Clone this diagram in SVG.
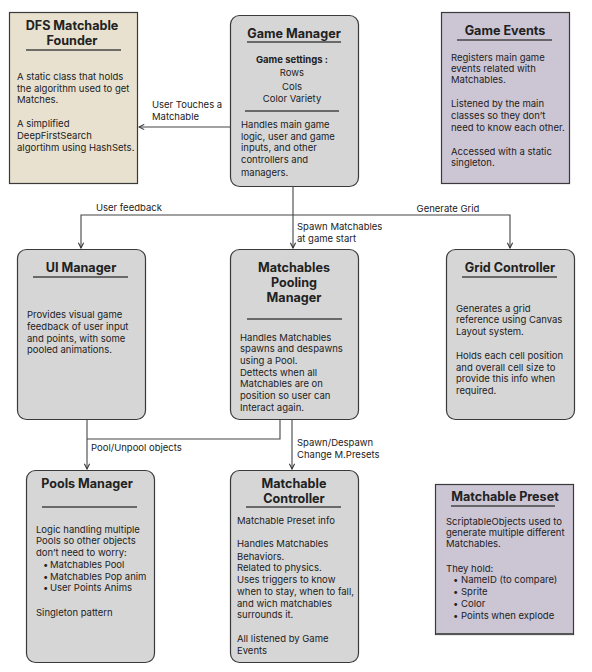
<svg xmlns="http://www.w3.org/2000/svg" width="592" height="672" viewBox="0 0 592 672">
<defs>
<marker id="ah" viewBox="0 0 8 8" refX="7" refY="4" markerWidth="7" markerHeight="7" orient="auto" markerUnits="userSpaceOnUse">
<path d="M1,1 L7,4 L1,7" fill="none" stroke="#333" stroke-width="1.2"/>
</marker>
<style>
text{font-family:Inter,"Noto Sans","Liberation Sans",sans-serif;fill:#222}
.t{font-size:12.6px;font-weight:700;text-anchor:middle}
.b{font-size:9.5px}
.c{font-size:9.5px;text-anchor:middle}
.bb{font-size:9.5px;font-weight:700;text-anchor:middle}
.l{font-size:9.5px}
.gray{fill:#d6d6d6;stroke:#3a3a3a;stroke-width:1.2}
.beige{fill:#e8e1cf;stroke:#3a3a3a;stroke-width:1.2}
.lav{fill:#ccc5d4;stroke:#3a3a3a;stroke-width:1.2}
.ul{stroke:#444;stroke-width:1.3}
.cn{fill:none;stroke:#444;stroke-width:1.1}
</style>
</defs>
<rect width="592" height="672" fill="#fff"/>

<g id="connectors">
<path class="cn" d="M230,127 H139" marker-end="url(#ah)"/>
<path class="cn" d="M293,187 V248" marker-end="url(#ah)"/>
<path class="cn" d="M293,215 H81 V248" marker-end="url(#ah)"/>
<path class="cn" d="M293,215 H510 V248" marker-end="url(#ah)"/>
<path class="cn" d="M280,420 V439 H87" />
<path class="cn" d="M87,420 V469" marker-end="url(#ah)"/>
<path class="cn" d="M292,420 V469" marker-end="url(#ah)"/>
<text class="l" x="152" y="108">User Touches a</text>
<text class="l" x="152" y="120">Matchable</text>
<text class="l" x="96" y="211">User feedback</text>
<text class="l" x="448" y="212" text-anchor="middle">Generate Grid</text>
<text class="l" x="297" y="230">Spawn Matchables</text>
<text class="l" x="297" y="242">at game start</text>
<text class="l" x="91" y="451">Pool/Unpool objects</text>
<text class="l" x="297" y="446">Spawn/Despawn</text>
<text class="l" x="297" y="458">Change M.Presets</text>
</g>

<g id="dfs">
<rect class="beige" x="9.5" y="12.5" width="128" height="171"/>
<text class="t" x="72" y="30">DFS Matchable</text>
<text class="t" x="72" y="45">Founder</text>
<line class="ul" x1="26" y1="50" x2="121" y2="50"/>
<text class="b" x="17" y="80">A static class that holds</text>
<text class="b" x="17" y="92">the algorithm used to get</text>
<text class="b" x="17" y="103">Matches.</text>
<text class="b" x="17" y="127">A simplified</text>
<text class="b" x="17" y="139">DeepFirstSearch</text>
<text class="b" x="17" y="151">algortihm using HashSets.</text>
</g>

<g id="game-manager">
<rect class="gray" x="230.5" y="15.5" width="128" height="171" rx="9"/>
<text class="t" x="294" y="38">Game Manager</text>
<line class="ul" x1="247" y1="42" x2="341" y2="42"/>
<text class="bb" x="292" y="63">Game settings :</text>
<text class="c" x="292" y="76">Rows</text>
<text class="c" x="292" y="90">Cols</text>
<text class="c" x="292" y="102">Color Variety</text>
<line class="ul" x1="245" y1="111" x2="339" y2="111"/>
<text class="b" x="241" y="128">Handles main game</text>
<text class="b" x="241" y="140">logic, user and game</text>
<text class="b" x="241" y="151">inputs, and other</text>
<text class="b" x="241" y="163">controllers and</text>
<text class="b" x="241" y="176">managers.</text>
</g>

<g id="game-events">
<rect class="lav" x="441.5" y="12.5" width="128" height="171"/>
<text class="t" x="505" y="35">Game Events</text>
<line class="ul" x1="457" y1="40" x2="552" y2="40"/>
<text class="b" x="451" y="61">Registers main game</text>
<text class="b" x="451" y="72">events related with</text>
<text class="b" x="451" y="83">Matchables.</text>
<text class="b" x="451" y="107">Listened by the main</text>
<text class="b" x="451" y="119">classes so they don’t</text>
<text class="b" x="451" y="131">need to know each other.</text>
<text class="b" x="451" y="155">Accessed with a static</text>
<text class="b" x="451" y="166">singleton.</text>
</g>

<g id="ui-manager">
<rect class="gray" x="17.5" y="249.5" width="128" height="170" rx="9"/>
<text class="t" x="81" y="272">UI Manager</text>
<line class="ul" x1="33" y1="277" x2="128" y2="277"/>
<text class="b" x="27" y="318">Provides visual game</text>
<text class="b" x="27" y="330">feedback of user input</text>
<text class="b" x="27" y="342">and points, with some</text>
<text class="b" x="27" y="353">pooled animations.</text>
</g>

<g id="pooling-manager">
<rect class="gray" x="230.5" y="249.5" width="128" height="170" rx="9"/>
<text class="t" x="294" y="272">Matchables</text>
<text class="t" x="294" y="287">Pooling</text>
<text class="t" x="294" y="302">Manager</text>
<line class="ul" x1="247" y1="319" x2="342" y2="319"/>
<text class="b" x="240" y="341">Handles Matchables</text>
<text class="b" x="240" y="352">spawns and despawns</text>
<text class="b" x="240" y="364">using a Pool.</text>
<text class="b" x="240" y="376">Dettects when all</text>
<text class="b" x="240" y="387">Matchables are on</text>
<text class="b" x="240" y="399">position so user can</text>
<text class="b" x="240" y="411">Interact again.</text>
</g>

<g id="grid-controller">
<rect class="gray" x="446.5" y="249.5" width="128" height="170" rx="9"/>
<text class="t" x="510" y="272">Grid Controller</text>
<line class="ul" x1="462" y1="277" x2="557" y2="277"/>
<text class="b" x="456" y="312">Generates a grid</text>
<text class="b" x="456" y="323">reference using Canvas</text>
<text class="b" x="456" y="335">Layout system.</text>
<text class="b" x="456" y="359">Holds each cell position</text>
<text class="b" x="456" y="371">and overall cell size to</text>
<text class="b" x="456" y="382">provide this info when</text>
<text class="b" x="456" y="394">required.</text>
</g>

<g id="pools-manager">
<rect class="gray" x="26.5" y="470.5" width="128" height="192" rx="9"/>
<text class="t" x="87" y="488">Pools Manager</text>
<line class="ul" x1="42" y1="507" x2="137" y2="507"/>
<text class="b" x="36" y="533">Logic handling multiple</text>
<text class="b" x="36" y="544">Pools so other objects</text>
<text class="b" x="36" y="556">don’t need to worry:</text>
<text class="b" x="43" y="568">•</text><text class="b" x="50" y="568">Matchables Pool</text>
<text class="b" x="43" y="580">•</text><text class="b" x="50" y="580">Matchables Pop anim</text>
<text class="b" x="43" y="591">•</text><text class="b" x="50" y="591">User Points Anims</text>
<text class="b" x="36" y="616">Singleton pattern</text>
</g>

<g id="matchable-controller">
<rect class="gray" x="230.5" y="470.5" width="128" height="192" rx="9"/>
<text class="t" x="294" y="488">Matchable</text>
<text class="t" x="294" y="503">Controller</text>
<line class="ul" x1="246" y1="507" x2="341" y2="507"/>
<text class="b" x="237" y="524">Matchable Preset info</text>
<text class="b" x="237" y="547">Handles Matchables</text>
<text class="b" x="237" y="560">Behaviors.</text>
<text class="b" x="237" y="571">Related to physics.</text>
<text class="b" x="237" y="583">Uses triggers to know</text>
<text class="b" x="237" y="595">when to stay, when to fall,</text>
<text class="b" x="237" y="607">and wich matchables</text>
<text class="b" x="237" y="618">surrounds it.</text>
<text class="b" x="237" y="642">All listened by Game</text>
<text class="b" x="237" y="654">Events</text>
</g>

<g id="matchable-preset">
<rect class="lav" x="435.5" y="484.5" width="138" height="150"/>
<line x1="436" y1="634" x2="573" y2="634" stroke="#555" stroke-width="2"/>
<text class="t" x="505" y="501">Matchable Preset</text>
<line class="ul" x1="451" y1="506" x2="555" y2="506"/>
<text class="b" x="446" y="525">ScriptableObjects used to</text>
<text class="b" x="446" y="536">generate multiple different</text>
<text class="b" x="446" y="547">Matchables.</text>
<text class="b" x="446" y="572">They hold:</text>
<text class="b" x="453" y="583">•</text><text class="b" x="461" y="583">NameID (to compare)</text>
<text class="b" x="453" y="595">•</text><text class="b" x="461" y="595">Sprite</text>
<text class="b" x="453" y="607">•</text><text class="b" x="461" y="607">Color</text>
<text class="b" x="453" y="619">•</text><text class="b" x="461" y="619">Points when explode</text>
</g>
</svg>
